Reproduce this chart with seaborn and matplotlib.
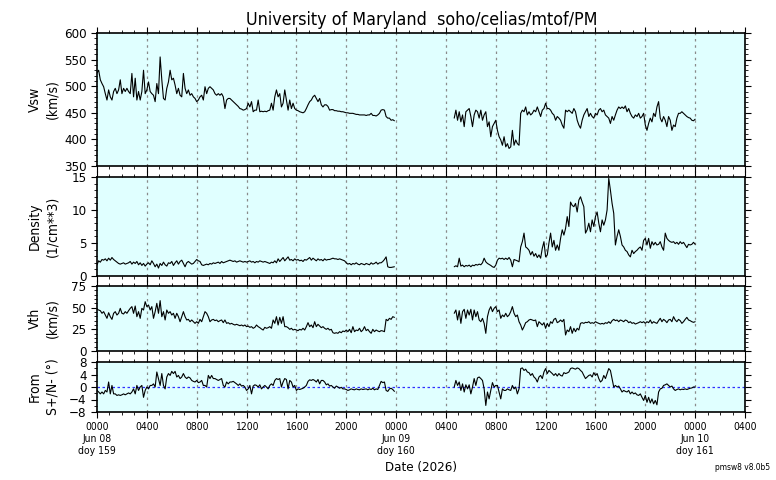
import numpy as np
import pandas as pd
import matplotlib
matplotlib.use("Agg")
import matplotlib.pyplot as plt
from matplotlib.ticker import MultipleLocator, FixedLocator
import seaborn as sns

# ---------------- data ----------------
CADENCE_MIN = 8
SEG1_START_MIN = 0
SEG2_START_MIN = 1720

vsw_day1 = [525, 530, 512, 505, 499, 486, 474, 493, 480, 474, 490, 496, 486, 493, 512, 486, 496, 490, 496, 490,
            486, 524, 480, 515, 474, 490, 474, 490, 530, 486, 493, 508, 490, 486, 483, 471, 505, 486, 555, 512,
            477, 474, 496, 508, 530, 512, 515, 502, 486, 496, 483, 480, 524, 496, 486, 493, 483, 486, 480, 477,
            471, 474, 480, 483, 474, 499, 486, 496, 499, 496, 493, 486, 483, 486, 483, 486, 480, 458, 474, 477,
            477, 474, 471, 468, 465, 462, 458, 457, 455, 456, 458, 468, 461, 471, 452, 455, 455, 474, 452, 453,
            452, 453, 452, 454, 455, 468, 455, 480, 493, 480, 486, 461, 468, 493, 474, 455, 474, 458, 468, 458,
            455, 454, 452, 451, 450, 452, 458, 465, 471, 474, 480, 483, 477, 471, 477, 465, 461, 465, 465, 462,
            455, 456, 456, 454, 454, 453, 453, 452, 452, 451, 450, 450, 449, 449, 449, 448, 447, 447, 446, 446,
            446, 446, 445, 446, 446, 449, 445, 445, 444, 446, 449, 455, 456, 455, 443, 440, 440, 436, 437, 435]
vsw_day2 = [440, 455, 436, 452, 433, 446, 424, 452, 455, 458, 443, 424, 446, 455, 452, 440, 455, 436, 446, 452,
            424, 433, 405, 424, 430, 436, 417, 405, 399, 389, 405, 386, 392, 383, 386, 417, 389, 399, 392, 389,
            449, 455, 452, 461, 446, 452, 446, 449, 455, 452, 461, 452, 443, 455, 458, 468, 458, 458, 455, 449,
            446, 436, 443, 440, 436, 427, 421, 455, 452, 455, 452, 449, 458, 452, 436, 427, 421, 436, 446, 452,
            458, 443, 449, 443, 440, 449, 446, 455, 458, 452, 455, 446, 443, 440, 430, 443, 436, 446, 455, 461,
            458, 461, 458, 463, 452, 458, 449, 443, 440, 446, 443, 449, 440, 443, 449, 427, 417, 430, 440, 433,
            449, 443, 461, 471, 440, 433, 443, 436, 424, 443, 436, 417, 427, 424, 440, 449, 449, 452, 449, 446,
            443, 441, 440, 436, 435, 438]

dens_day1 = [1.7, 2.3, 2.1, 2.5, 2.4, 2.6, 2.3, 2.7, 2.4, 2.8, 2.5,
             2.3, 2.1, 1.9, 1.8, 1.9, 2.0, 1.8, 1.9, 2.0, 2.2,
             1.8, 2.1, 1.9, 2.2, 1.7, 2.0, 1.6, 1.9, 1.5, 1.8,
             2.0, 1.7, 2.3, 1.9, 1.4, 1.8, 1.2, 1.9, 1.6, 2.1,
             1.7, 1.5, 2.0, 1.9, 2.2, 1.6, 2.0, 2.3, 1.8, 2.2,
             2.4, 1.9, 1.4, 2.0, 2.2, 2.0, 1.8, 1.9, 2.2, 2.5,
             2.3, 2.2, 1.7, 1.6, 1.7, 1.8, 1.7, 1.9, 1.8, 2.0,
             1.9, 2.0, 2.1, 1.9, 2.2, 2.0, 2.1, 2.2, 2.3, 2.4,
             2.3, 2.2, 2.3, 2.1, 2.2, 2.3, 2.2, 2.1, 2.2, 2.1,
             2.2, 2.3, 2.1, 2.2, 2.0, 2.2, 2.1, 2.3, 2.2, 2.1,
             2.2, 2.1, 2.0, 1.9, 2.1, 2.0, 2.3, 2.0, 2.6, 2.2,
             2.5, 2.8, 2.3, 2.6, 2.9, 2.4, 2.5, 2.3, 2.6, 2.4,
             2.5, 2.3, 2.4, 2.2, 2.5, 2.4, 2.6, 2.8, 2.4, 2.7,
             2.5, 2.3, 2.6, 2.4, 2.5, 2.3, 2.6, 2.4, 2.5, 2.5,
             2.6, 2.7, 2.6, 2.6, 2.5, 2.6, 2.5, 2.4, 2.3, 2.0,
             1.8, 1.9, 1.7, 1.9, 1.8, 2.0, 1.8, 1.7, 1.9, 1.8,
             1.7, 1.9, 1.8, 1.7, 2.0, 1.8, 1.9, 2.1, 1.8, 2.0,
             2.0, 2.2, 2.5, 2.9, 1.4, 1.3, 1.3, 1.35, 1.4]
dens_day2 = [1.4, 1.55, 1.4, 2.7, 1.5, 1.65, 1.4, 1.6, 1.5, 1.65, 1.4, 1.65, 1.55, 1.75, 1.65, 1.8, 1.7, 2.0, 2.7, 2.15,
             1.9, 1.75, 1.6, 1.4, 1.3, 1.65, 2.4, 2.7, 2.6, 2.7, 2.5, 2.7, 2.5, 2.8, 2.4, 1.4, 2.5, 2.4, 2.3, 2.15,
             4.4, 5.2, 6.5, 4.4, 4.2, 3.9, 3.2, 3.7, 3.0, 3.4, 2.8, 3.2, 2.7, 4.2, 5.2, 2.9, 3.2, 5.0, 6.5, 4.4,
             5.4, 3.9, 4.7, 3.9, 5.7, 7.0, 6.2, 7.2, 9.0, 7.5, 11.2, 10.7, 10.5, 11.0, 9.7, 11.5, 12.0, 11.2, 10.5, 6.5,
             7.0, 8.0, 6.7, 8.5, 7.5, 9.0, 9.7, 8.0, 6.7, 8.5, 7.7, 8.5, 10.0, 14.8, 13.0, 11.0, 9.5, 4.7, 6.0, 7.0,
             6.0, 4.7, 4.4, 3.9, 3.7, 3.2, 2.9, 3.9, 3.4, 3.7, 3.9, 4.2, 4.4, 3.9, 5.4, 5.7, 4.7, 5.7, 4.2, 5.2,
             4.7, 5.1, 4.7, 4.8, 5.2, 4.4, 3.9, 6.5, 5.7, 5.4, 5.2, 5.1, 5.2, 4.9, 5.1, 4.8, 5.2, 4.9, 5.1, 4.7,
             4.3, 4.8, 4.7, 4.8, 5.1, 4.8]

vth_day1 = [48.1, 47.3, 46.5, 43.5, 45.4, 41.5, 37.7, 44.2, 39.6, 36.5, 43.5, 45.4, 41.5, 43.5, 49.2, 43.5, 42.7, 45.4, 43.5, 46.5,
            49.2, 51.2, 43.5, 51.9, 39.6, 45.4, 37.7, 49.2, 47.3, 56.9, 51.2, 53.1, 47.3, 51.2, 37.7, 45.4, 55.0, 43.5, 58.1, 39.6,
            45.4, 35.8, 47.3, 43.5, 45.4, 41.5, 43.5, 37.7, 43.5, 39.6, 33.8, 39.6, 45.4, 39.6, 35.8, 36.5, 33.8, 35.8, 33.8, 31.9,
            33.8, 31.9, 36.5, 33.8, 39.6, 45.4, 43.5, 39.6, 33.8, 35.8, 36.5, 35.0, 35.8, 33.8, 35.0, 35.8, 32.7, 35.8, 31.9, 32.7,
            31.1, 31.9, 30.8, 30.0, 30.8, 30.0, 29.2, 30.0, 28.8, 30.0, 28.1, 28.8, 27.3, 28.1, 26.2, 27.3, 30.0, 28.1, 26.9, 25.4,
            24.2, 27.3, 26.2, 26.9, 28.1, 26.2, 35.8, 31.9, 39.6, 30.0, 38.8, 31.9, 39.6, 28.1, 28.1, 26.9, 25.0, 26.2, 24.2, 25.0,
            24.2, 23.5, 25.0, 24.2, 26.2, 24.2, 28.1, 32.7, 28.1, 30.0, 26.9, 33.8, 28.1, 30.8, 28.8, 26.9, 28.1, 26.2, 25.0, 26.2,
            24.2, 25.0, 21.1, 20.4, 21.1, 20.4, 22.3, 21.1, 23.1, 22.3, 24.2, 22.3, 25.0, 21.1, 28.1, 22.3, 24.2, 23.5, 26.2, 22.3,
            24.2, 28.1, 23.5, 25.0, 22.3, 20.4, 25.0, 22.3, 24.2, 23.1, 22.3, 23.5, 23.1, 22.3, 36.5, 35.0, 37.7, 36.5, 39.6, 38.8]
vth_day2 = [43.5, 47.3, 35.8, 46.5, 31.9, 45.4, 48.1, 37.7, 47.3, 41.5, 48.1, 35.8, 47.3, 39.6, 45.4, 35.8, 33.8, 37.7, 31.9, 20.4,
            39.6, 47.3, 51.2, 45.4, 49.2, 51.2, 45.4, 47.3, 37.7, 41.5, 39.6, 43.5, 39.6, 41.5, 45.4, 51.2, 43.5, 39.6, 41.5, 33.8,
            30.0, 24.2, 28.1, 32.7, 33.8, 35.8, 36.5, 35.8, 35.0, 35.8, 28.1, 33.8, 31.9, 30.0, 32.7, 26.2, 31.9, 28.1, 33.8, 31.9,
            36.5, 37.7, 32.7, 33.8, 35.8, 33.8, 36.5, 18.5, 24.2, 22.3, 28.1, 20.4, 26.2, 22.3, 26.2, 24.2, 31.9, 32.7, 31.9, 33.1,
            32.7, 33.8, 31.9, 32.7, 31.9, 33.8, 32.7, 31.9, 31.1, 31.9, 31.1, 32.7, 31.9, 33.8, 31.9, 35.0, 36.5, 35.0, 35.8, 33.8,
            35.8, 35.0, 33.8, 35.8, 35.0, 32.7, 33.8, 31.9, 32.7, 31.1, 31.9, 32.7, 33.8, 32.7, 33.8, 31.9, 33.8, 32.7, 35.8, 31.9,
            33.8, 32.7, 31.9, 35.0, 37.7, 33.8, 36.5, 35.0, 32.7, 35.8, 36.5, 33.8, 39.6, 35.8, 33.8, 36.5, 35.0, 31.9, 33.8, 36.5,
            38.8, 35.8, 35.0, 33.8, 33.1, 33.8]

ang_day1 = [-1.1, -1.6, -2.2, -1.6, -2.2, -1.1, -1.6, 1.6, -2.2, 0.5, -2.2, -2.2, -2.7, -2.5, -2.7, -2.5, -2.2, -2.5, -2.2, -1.9,
            -2.2, -1.6, -0.6, -2.2, 0.5, -1.1, 0.0, 0.5, -3.3, -1.1, 0.0, -0.6, 0.5, 0.5, 1.0, 0.0, 4.8, 2.7, 0.5, 4.3,
            0.5, -0.6, 3.2, 4.3, 3.7, 5.0, 4.3, 5.0, 3.2, 3.7, 2.7, 3.2, 4.3, 3.2, 2.7, 3.2, 2.9, 2.1, 1.8, 1.6,
            2.1, 1.4, 1.6, 2.1, 0.5, 0.5, 0.0, 3.7, 2.7, 3.7, 2.7, 2.7, 2.4, 2.1, 2.4, 2.7, 0.5, 0.0, 1.6, 1.0,
            1.6, 1.6, 1.8, 1.4, 1.0, 0.5, 1.0, 0.3, 0.5, 0.0, -1.1, -0.6, 0.5, -2.2, 0.3, 0.7, 0.5, 0.0, 0.7, -0.6,
            0.0, 0.5, 0.0, -0.6, 0.5, 1.0, 0.5, 2.1, 2.7, 2.4, 2.7, 0.0, 1.6, 2.7, 2.4, -0.6, 2.1, 1.6, 0.0, 0.5,
            -1.1, -0.6, -0.8, -0.6, -0.4, 0.0, 0.5, 1.8, 2.3, 2.1, 2.4, 2.1, 1.6, 2.4, 1.0, 2.1, 2.1, 1.6, 0.7, 1.0,
            0.3, 0.5, 0.0, -0.4, 0.3, 0.0, -0.4, -0.1, -0.6, -0.6, -0.8, -1.1, -0.9, -0.6, -0.8, -0.9, -0.6, -0.8, -0.9, -0.6,
            -0.8, -0.7, -0.6, -0.9, -0.6, -0.8, -0.4, -0.9, -0.6, -0.8, 0.5, 1.8, 1.4, 1.6, -1.1, -1.4, -0.6, -0.4, -0.8, -1.4]
ang_day2 = [0.0, 2.1, 0.5, 1.6, -1.1, 1.0, -1.6, 0.7, -0.6, 0.7, -2.2, 0.0, 2.7, 0.5, 2.9, 3.2, 2.7, 2.1, -0.6, -5.9,
            -1.6, -3.8, -1.1, 1.4, 0.0, 0.5, 0.5, -1.6, -3.8, -0.6, -1.1, -1.1, -0.6, -0.9, -1.1, 0.5, -0.6, 0.0, -2.2, -0.6,
            5.9, 6.1, 5.3, 5.7, 4.8, 4.6, 3.7, 4.3, 3.2, 2.7, 1.6, 3.2, 3.7, 2.7, 4.8, 5.9, 4.3, 5.3, 4.8, 4.3,
            3.7, 4.3, 3.5, 4.3, 3.7, 3.5, 4.6, 4.3, 4.5, 4.8, 5.9, 6.1, 5.9, 5.7, 6.1, 5.9, 5.3, 4.8, 3.7, 2.7,
            3.2, 3.7, 3.9, 3.2, 4.6, 3.7, 4.3, 2.7, 1.6, 2.1, 3.7, 2.7, 4.3, 5.9, 5.3, 2.7, 0.0, 0.5, 0.0, 0.3,
            -0.6, -1.6, -1.1, -1.4, -1.6, -1.1, -2.2, -1.6, -2.2, -1.9, -2.5, -2.7, -2.2, -3.3, -4.3, -2.7, -4.9, -3.3, -5.1, -3.8,
            -5.4, -4.3, -5.7, -1.6, -0.6, -0.4, 0.5, 0.7, 1.0, 0.5, 0.0, 0.3, -0.6, -1.1, -0.8, -0.6, -0.9, -0.7, -0.8, -0.6,
            -0.8, -0.6, -0.4, -0.3, 0.0, 0.0]

x_major_hours = list(range(0, 53, 4))
date_labels = {0: "Jun 08\ndoy 159", 24: "Jun 09\ndoy 160", 48: "Jun 10\ndoy 161"}

panels = [
    ("Vsw\n(km/s)", vsw_day1, vsw_day2, (350, 600), 50, 10),
    ("Density\n(1/cm**3)", dens_day1, dens_day2, (0, 15), 5, 1),
    ("Vth\n(km/s)", vth_day1, vth_day2, (0, 75), 25, 5),
    ("From\nS+/N- (°)", ang_day1, ang_day2, (-8, 8), 4, 2),
]

# ---------------- style ----------------
sns.set_style("ticks")
plt.rcParams["font.family"] = ["DejaVu Sans"]
plt.rcParams["font.stretch"] = "condensed"
for key in ("text.color", "axes.labelcolor", "xtick.color", "ytick.color"):
    plt.rcParams[key] = "black"

fig = plt.figure(figsize=(7.76, 4.80), dpi=100)
L, W = 97 / 776, 648 / 776
boxes = [(33, 166), (177, 276), (286, 351), (362, 412)]
axes = []
for (top, bot) in boxes:
    ax = fig.add_axes([L, 1 - bot / 480, W, (bot - top) / 480])
    axes.append(ax)

BG = "#e0ffff"

def hours(start_min, n):
    return (start_min + CADENCE_MIN * np.arange(n)) / 60.0

for i, (ax, (lab, d1, d2, ylim, ymaj, ymin)) in enumerate(zip(axes, panels)):
    ax.set_facecolor(BG)
    for start, vals in ((SEG1_START_MIN, d1), (SEG2_START_MIN, d2)):
        df = pd.DataFrame({"t": hours(start, len(vals)), "v": vals})
        sns.lineplot(data=df, x="t", y="v", ax=ax, color="black", linewidth=0.8,
                     estimator=None, sort=False)
    ax.set_xlim(0, 52)
    ax.set_ylim(*ylim)
    ax.yaxis.set_major_locator(MultipleLocator(ymaj))
    ax.yaxis.set_minor_locator(MultipleLocator(ymin))
    ax.xaxis.set_major_locator(FixedLocator(x_major_hours))
    ax.xaxis.set_minor_locator(MultipleLocator(1))
    for h in x_major_hours[1:-1]:
        ax.axvline(h, color="#8a8a8a", linestyle=(0, (2, 3)), linewidth=0.9, zorder=1)
    if i == 3:
        ax.axhline(0, color="#2f2fff", linestyle=(0, (2, 2)), linewidth=0.9, zorder=1)
    ax.set_ylabel(lab, fontsize=10, linespacing=1.3)
    ax.yaxis.set_label_coords(-0.058, 0.5)
    ax.set_xlabel("")
    ax.tick_params(axis="both", which="both", direction="out", top=True, right=True,
                   colors="black", labelsize=9.5)
    ax.tick_params(axis="both", which="major", length=4, width=0.8)
    ax.tick_params(axis="both", which="minor", length=2, width=0.6)
    for s in ax.spines.values():
        s.set_linewidth(1.2)
        s.set_color("black")
    if i < 3:
        ax.tick_params(axis="x", labelbottom=False)

bottom = axes[-1]
labels = []
for h in x_major_hours:
    txt = "%02d00" % (h % 24)
    if h in date_labels:
        txt += "\n" + date_labels[h]
    labels.append(txt)
bottom.set_xticklabels(labels, fontsize=7.5, linespacing=1.25, va="top")
bottom.set_xlabel("Date (2026)", fontsize=9.5)
bottom.xaxis.set_label_coords(0.5, -0.98)

fig.suptitle("University of Maryland  soho/celias/mtof/PM", x=0.543, y=0.958, va="center",
             fontsize=12.8, color="black")
fig.text(0.993, 0.027, "pmsw8 v8.0b5", ha="right", va="center", fontsize=6, color="black")

fig.savefig("out.png", dpi=100)
